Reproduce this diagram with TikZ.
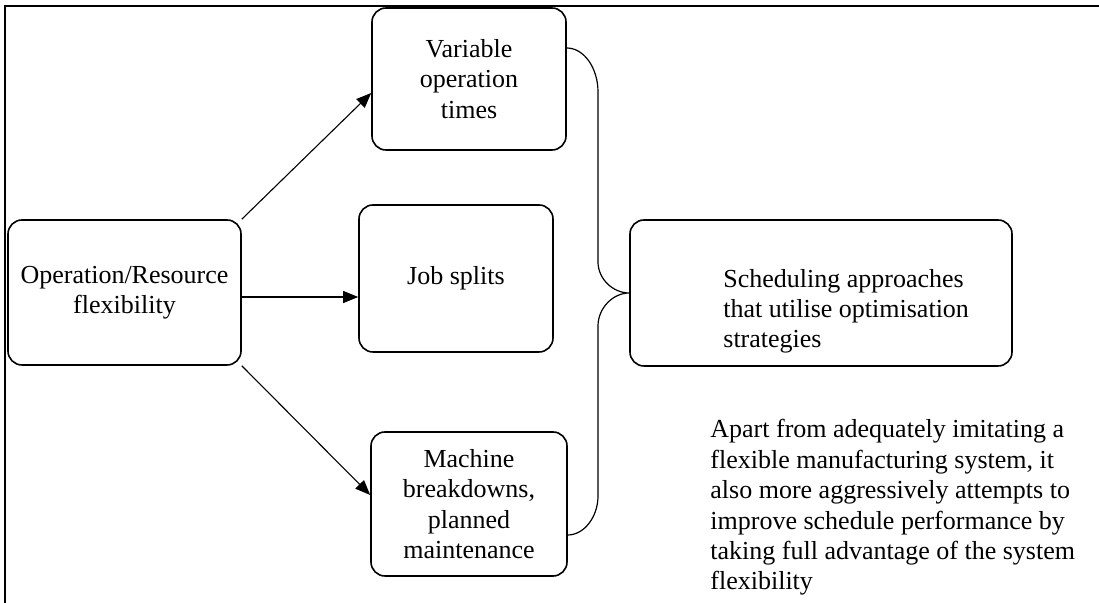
\documentclass[tikz,border=0pt]{standalone}
\usepackage{fontspec}
\setmainfont{Liberation Serif}
\usetikzlibrary{arrows.meta}
\begin{document}
\begin{tikzpicture}[x=0.5pt,y=-0.5pt,
  box/.style={draw,line width=0.8pt,rounded corners=7pt,inner sep=0pt,align=center,
    font=\fontsize{13}{15.2}\selectfont},
  txt/.style={inner sep=0pt,align=left,font=\fontsize{13}{15.2}\selectfont},
  arr/.style={line width=0.55pt,-{Triangle[length=7.5pt,width=6pt]}},
  brace/.style={line width=0.6pt},
  frame/.style={line width=0.8pt}]
\useasboundingbox (0,0) rectangle (1099,603);
\draw[frame] (5,603) -- (5,6) -- (1099,6);
\node[box,minimum width=116.5pt,minimum height=72.5pt] (op) at (124.5,292.5) {Operation/Resource\\flexibility};
\node[box,minimum width=97pt,minimum height=71pt] (var) at (469,79) {Variable\\operation\\times};
\node[box,minimum width=97pt,minimum height=73.5pt] (job) at (456,278.5) {Job splits};
\node[box,minimum width=98pt,minimum height=72pt] (mach) at (469,504) {Machine\\breakdowns,\\planned\\maintenance};
\node[box,minimum width=191pt,minimum height=73pt] (sched) at (821,293) {};
\node[txt,anchor=base west] (schedtxt) at (723,348) {Scheduling approaches\\that utilise optimisation\\strategies};
\node[txt,anchor=base west] (note) at (710,590) {Apart from adequately imitating a\\flexible manufacturing system, it\\also more aggressively attempts to\\improve schedule performance by\\taking full advantage of the system\\flexibility};
\draw[arr] (op.north east) -- (var.west |- 0,93);
\draw[arr] (op.east |- 0,297) -- (job.west |- 0,297);
\draw[arr] (op.south east) -- (mach.west |- 0,495);
\draw[brace] (var.east |- 0,48) .. controls (584,48) and (598,68) .. (598,92)
  -- (598,262) .. controls (598,279) and (613,293) .. (sched.west)
  .. controls (613,293) and (598,308) .. (598,326)
  -- (598,496) .. controls (598,517) and (584,535) .. (mach.east |- 0,535);
\end{tikzpicture}
\end{document}
